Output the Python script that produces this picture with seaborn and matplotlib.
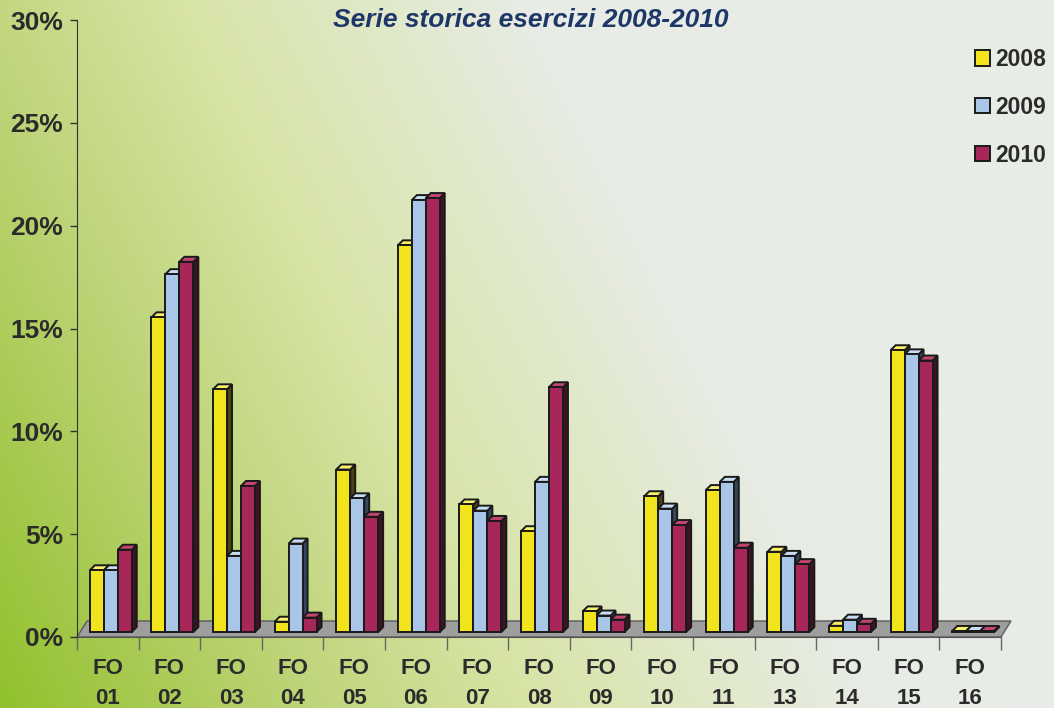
import numpy as np
import pandas as pd
import matplotlib
matplotlib.use('Agg')
import matplotlib.pyplot as plt
import seaborn as sns
from matplotlib.patches import Polygon
from matplotlib.transforms import ScaledTranslation

# dati (valori in %)
categorie = ['FO\n01', 'FO\n02', 'FO\n03', 'FO\n04', 'FO\n05', 'FO\n06', 'FO\n07', 'FO\n08',
             'FO\n09', 'FO\n10', 'FO\n11', 'FO\n13', 'FO\n14', 'FO\n15', 'FO\n16']
anni = ['2008', '2009', '2010']
v2008 = [3.0, 15.3, 11.8, 0.5, 7.9, 18.8, 6.2, 4.9, 1.0, 6.6, 6.9, 3.9, 0.3, 13.7, 0.05]
v2009 = [3.0, 17.4, 3.7, 4.3, 6.5, 21.0, 5.9, 7.3, 0.8, 6.0, 7.3, 3.7, 0.6, 13.5, 0.05]
v2010 = [4.0, 18.0, 7.1, 0.7, 5.6, 21.1, 5.4, 11.9, 0.6, 5.2, 4.1, 3.3, 0.4, 13.2, 0.05]
yticks = [0, 5, 10, 15, 20, 25, 30]
titolo = 'Serie storica esercizi 2008-2010'

colori = {'2008': '#f2e41c', '2009': '#a9c6e8', '2010': '#a8275a'}
lati = {'#f2e41c': '#4a4510', '#a9c6e8': '#34475c', '#a8275a': '#3e1424'}
tetti = {'#f2e41c': '#f8ef6a', '#a9c6e8': '#c8dcf2', '#a8275a': '#c2456f'}

df = pd.DataFrame({
    'cat': categorie * 3,
    'anno': [a for a in anni for _ in categorie],
    'val': v2008 + v2009 + v2010,
})

sns.set_style('white')
plt.rcParams['font.family'] = ['Liberation Sans', 'DejaVu Sans']

fig = plt.figure(figsize=(10.54, 7.08), dpi=100)

# sfondo sfumato: verde in basso a sinistra -> grigio chiaro in alto a destra
u, v = np.meshgrid(np.linspace(0, 1, 400), np.linspace(0, 1, 300))
s = 1.2 * u + 0.4 * v
tappe = [0.0, 0.35, 0.6, 1.0]
rosso = [145, 190, 215, 232]
verde = [193, 212, 228, 236]
blu = [45, 120, 165, 230]
img = np.dstack([np.interp(s, tappe, c) for c in (rosso, verde, blu)]) / 255
bg = fig.add_axes([0, 0, 1, 1], zorder=-10)
bg.imshow(img, aspect='auto', extent=[0, 1, 0, 1], origin='lower')
bg.axis('off')

ax = fig.add_axes([77 / 1054, 1 - 637 / 708, 924 / 1054, 617 / 708])
ax.patch.set_alpha(0)

sns.barplot(data=df, x='cat', y='val', hue='anno', palette=colori, width=0.68,
            edgecolor='#1a1a1a', linewidth=1.4, saturation=1, ax=ax, zorder=3)
ax.set_xlim(-0.5, 14.5)
ax.set_ylim(0, 30)

barre = list(ax.patches)


def px(dxp, dyp):
    inv = ax.transData.inverted()
    o = ax.transData.transform((0, 0))
    return inv.transform(o + np.array([dxp, dyp])) - inv.transform(o)


# pavimento grigio
fdx, fdy = px(10, 16)
ax.add_patch(Polygon([(-0.5, 0), (14.5, 0), (14.5 + fdx, fdy), (-0.5 + fdx, fdy)],
                     closed=True, facecolor='#9e9e9e', edgecolor='#5a5a5a', lw=1,
                     zorder=1, clip_on=False))

# effetto 3D sulle barre
sposta = ax.transData + ScaledTranslation(0.03, 0.05, fig.dpi_scale_trans)
ddx, ddy = px(5, 5)
for p in barre:
    x, wd, h = p.get_x(), p.get_width(), p.get_height()
    if np.isnan(h):
        continue
    col = matplotlib.colors.to_hex(p.get_facecolor())
    p.set_transform(sposta)
    p.set_clip_on(False)
    lato = Polygon([(x + wd, 0), (x + wd + ddx, ddy), (x + wd + ddx, h + ddy), (x + wd, h)],
                   closed=True, facecolor=lati.get(col, '#222'), edgecolor='#1a1a1a',
                   lw=1.4, zorder=2.5, transform=sposta, clip_on=False)
    tetto = Polygon([(x, h), (x + wd, h), (x + wd + ddx, h + ddy), (x + ddx, h + ddy)],
                    closed=True, facecolor=tetti.get(col, col), edgecolor='#1a1a1a',
                    lw=1.4, zorder=2.6, transform=sposta, clip_on=False)
    ax.add_patch(lato)
    ax.add_patch(tetto)

# assi
sns.despine(ax=ax, top=True, right=True)
ax.spines['left'].set_color('#333333')
ax.spines['bottom'].set_color('#555555')
ax.set_yticks(yticks)
ax.set_yticklabels([f'{t}%' for t in yticks], fontsize=19, fontweight='bold', color='#2b2b2b')
ax.tick_params(axis='y', length=5, width=1, color='#333333', pad=5, left=True)
ax.set_xticks(range(len(categorie)))
ax.set_xticklabels(categorie, fontsize=16, fontweight='bold', color='#2b2b2b', linespacing=1.55)
ax.set_xticks(np.arange(-0.5, 15, 1), minor=True)
ax.tick_params(axis='x', which='major', length=0, pad=15)
ax.tick_params(axis='x', which='minor', length=9, width=1, color='#666666', bottom=True)
ax.set_xlabel('')
ax.set_ylabel('')

fig.text(531 / 1054, 1 - 20 / 708, titolo, ha='center', va='center', fontsize=19,
         fontweight='bold', style='italic', color='#1f3768')

handles, labels = ax.get_legend_handles_labels()
ax.legend_.remove()
fig.legend(handles, labels, loc='upper left', bbox_to_anchor=(975 / 1054, 1 - 48 / 708),
           frameon=False, prop={'weight': 'bold', 'size': 16.5}, handlelength=0.65,
           handleheight=0.65, handletextpad=0.25, labelspacing=1.08, borderpad=0,
           borderaxespad=0, labelcolor='#2b2b2b')

fig.savefig('out.png', dpi=100)
